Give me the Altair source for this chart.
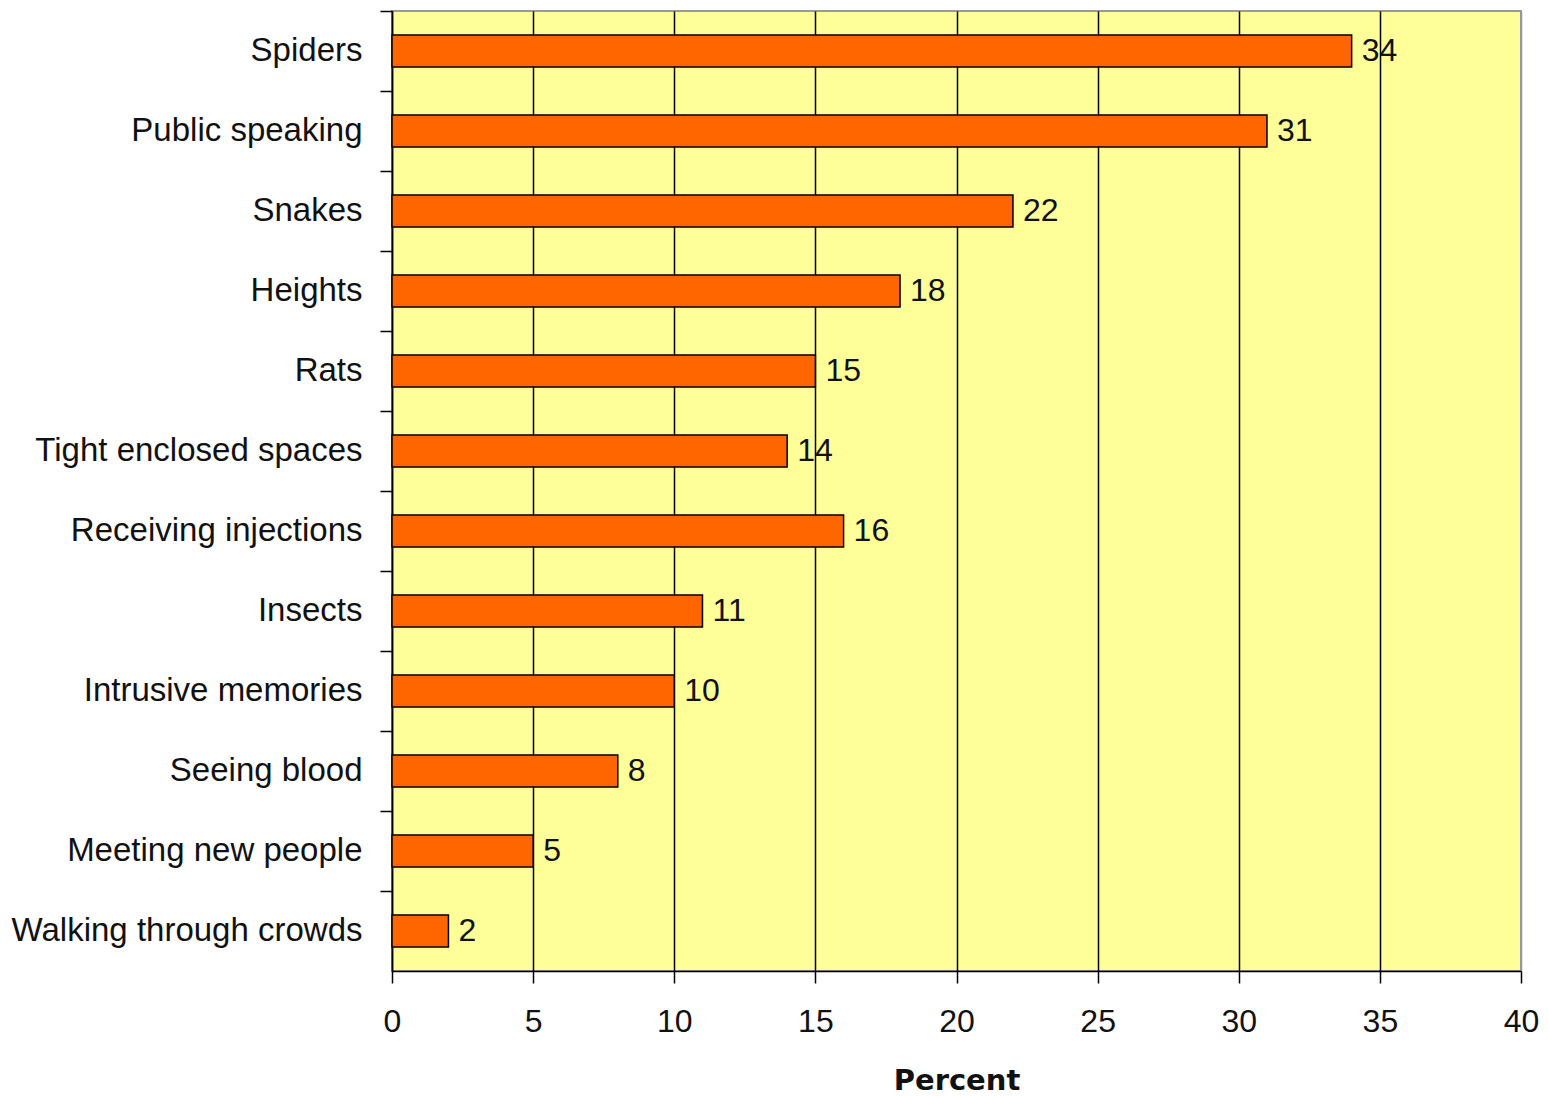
import altair as alt
import pandas as pd

categories = ["Spiders", "Public speaking", "Snakes", "Heights", "Rats",
              "Tight enclosed spaces", "Receiving injections", "Insects",
              "Intrusive memories", "Seeing blood", "Meeting new people",
              "Walking through crowds"]
percent = [34, 31, 22, 18, 15, 14, 16, 11, 10, 8, 5, 2]
x_ticks = [0, 5, 10, 15, 20, 25, 30, 35, 40]

df = pd.DataFrame({"fear": categories, "pct": percent})

FONT = "Liberation Sans"

y_enc = alt.Y("fear:N", sort=categories, title=None,
              scale=alt.Scale(paddingInner=0, paddingOuter=0),
              axis=alt.Axis(bandPosition=0, tickSize=12, tickColor="black",
                            tickWidth=1.5, domainColor="black", domainWidth=1.5,
                            labelFont=FONT, labelFontSize=33, labelColor="#111",
                            labelPadding=18, labelLimit=0, grid=False))
x_enc = alt.X("pct:Q", title="Percent",
              scale=alt.Scale(domain=[0, 40], nice=False),
              axis=alt.Axis(values=x_ticks, tickSize=12, tickColor="black",
                            tickWidth=1.5, domainColor="black", domainWidth=1.5,
                            labelFont=FONT, labelFontSize=32, labelColor="#111",
                            labelPadding=23, labelFlush=False,
                            grid=True,
                            gridColor={"condition": {"test": "datum.value == 40", "value": "#999999"},
                                       "value": "black"},
                            gridWidth=1.5,
                            titleFont="DejaVu Sans", titleFontWeight="bold",
                            titleFontSize=29, titleColor="#111", titlePadding=29))

bars = alt.Chart(df).mark_bar(color="#FF6600", stroke="black", strokeWidth=1.5,
                              height={"band": 0.4}).encode(x=x_enc, y=y_enc)

labels = alt.Chart(df).mark_text(align="left", baseline="middle", dx=10,
                                 font=FONT, fontSize=32, color="#111").encode(
    x=alt.X("pct:Q"), y=alt.Y("fear:N", sort=categories), text="pct:Q")

chart = (bars + labels).properties(
    width=1129, height=960,
    padding={"left": 3, "top": 2, "right": 0, "bottom": 0}
).configure_view(fill="#FFFF99", stroke="#999999", strokeWidth=2)

chart.save("out.html", embed_options={"renderer": "svg", "actions": False})
